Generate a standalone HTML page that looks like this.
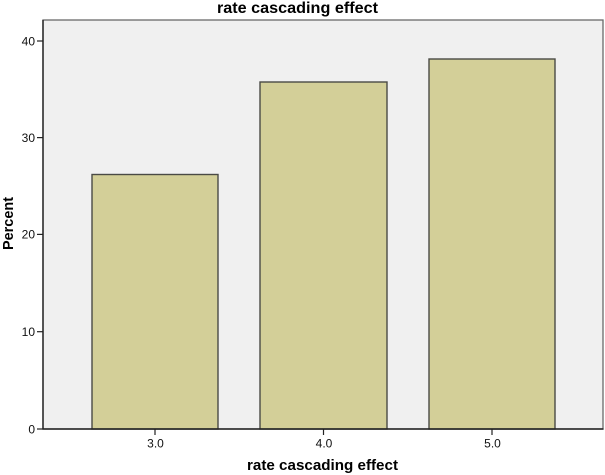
<!DOCTYPE html>
<html><head><meta charset="utf-8"><style>
html,body{margin:0;padding:0;background:#fff;}
svg{display:block;}
</style></head><body>
<svg width="605" height="475" viewBox="0 0 605 475" xmlns="http://www.w3.org/2000/svg" font-family="Liberation Sans, sans-serif">
<rect x="0" y="0" width="605" height="475" fill="#fff"/>
<text x="297.5" y="13" text-anchor="middle" font-weight="bold" font-size="15.5" fill="#000" textLength="161" lengthAdjust="spacingAndGlyphs">rate cascading effect</text>
<rect x="43" y="20" width="560" height="409" fill="#f0f0f0" stroke="#6a6a6a" stroke-width="1.3"/>
<g fill="#d3cf98" stroke="#4a4a45" stroke-width="1.4">
<rect x="92" y="174.5" width="126" height="254.5"/>
<rect x="260" y="82" width="127" height="347"/>
<rect x="429" y="59" width="126" height="370"/>
</g>
<line x1="43" y1="20" x2="43" y2="429.5" stroke="#222" stroke-width="1.4"/>
<line x1="42.5" y1="429" x2="603.5" y2="429" stroke="#222" stroke-width="1.6"/>
<g stroke="#222" stroke-width="1.2">
<line x1="37" y1="429" x2="43" y2="429"/>
<line x1="37" y1="331.7" x2="43" y2="331.7"/>
<line x1="37" y1="234.4" x2="43" y2="234.4"/>
<line x1="37" y1="137.6" x2="43" y2="137.6"/>
<line x1="37" y1="41" x2="43" y2="41"/>
<line x1="155" y1="429" x2="155" y2="435"/>
<line x1="323.5" y1="429" x2="323.5" y2="435"/>
<line x1="492" y1="429" x2="492" y2="435"/>
</g>
<g font-size="12" fill="#111" text-anchor="end">
<text x="35" y="433.3">0</text>
<text x="35" y="336">10</text>
<text x="35" y="238.7">20</text>
<text x="35" y="141.9">30</text>
<text x="35" y="45.3">40</text>
</g>
<g font-size="12" fill="#111" text-anchor="middle">
<text x="155.5" y="447.5">3.0</text>
<text x="324" y="447.5">4.0</text>
<text x="492.5" y="447.5">5.0</text>
</g>
<text x="322.5" y="470" text-anchor="middle" font-weight="bold" font-size="15" fill="#000" textLength="151" lengthAdjust="spacingAndGlyphs">rate cascading effect</text>
<text transform="translate(13,223.5) rotate(-90)" text-anchor="middle" font-weight="bold" font-size="14.4" fill="#000" textLength="53" lengthAdjust="spacingAndGlyphs">Percent</text>
</svg>
</body></html>
